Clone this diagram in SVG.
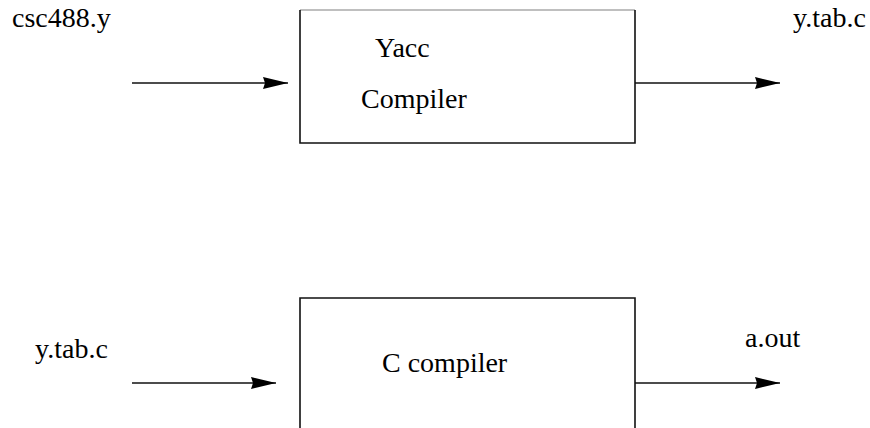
<svg xmlns="http://www.w3.org/2000/svg" width="870" height="428" viewBox="0 0 870 428">
  <style>
    .box { fill: none; stroke: #111; stroke-width: 1.6; }
    .edge-light { stroke: #aaa; stroke-width: 1.6; }
    .lbl { font-family: "Liberation Serif", "Times New Roman", serif; font-size: 28px; fill: #000; }
    .wire { stroke: #111; stroke-width: 1.4; fill: none; marker-end: url(#head); }
  </style>
  <defs>
    <marker id="head" markerUnits="userSpaceOnUse" markerWidth="26" markerHeight="14" refX="25" refY="6" orient="auto">
      <path d="M0,0 L25,6 L0,12 L2,6 Z" fill="#000"/>
    </marker>
  </defs>
  <rect width="870" height="428" fill="#fff"/>

  <!-- top stage: yacc -->
  <g id="yacc">
    <line class="edge-light" x1="300" y1="10" x2="635" y2="10"/>
    <polyline class="box" points="300,10 300,143 635,143 635,10"/>
    <text class="lbl" x="375" y="57">Yacc</text>
    <text class="lbl" x="361" y="108">Compiler</text>
  </g>
  <g id="src-y">
    <text class="lbl" x="12" y="27">csc488.y</text>
  </g>
  <g id="out-c">
    <text class="lbl" x="793" y="27">y.tab.c</text>
  </g>

  <!-- bottom stage: C compiler -->
  <g id="cc">
    <polyline class="box" points="300,430 300,298 635,298 635,430"/>
    <text class="lbl" x="382" y="372">C compiler</text>
  </g>
  <g id="src-c">
    <text class="lbl" x="35" y="358">y.tab.c</text>
  </g>
  <g id="out-exe">
    <text class="lbl" x="745" y="347">a.out</text>
  </g>

  <g id="connectors">
    <line class="wire" x1="132" y1="83" x2="288" y2="83"/>
    <line class="wire" x1="635" y1="83" x2="780" y2="83"/>
    <line class="wire" x1="132" y1="383" x2="276" y2="383"/>
    <line class="wire" x1="635" y1="383" x2="780" y2="383"/>
  </g>
</svg>
